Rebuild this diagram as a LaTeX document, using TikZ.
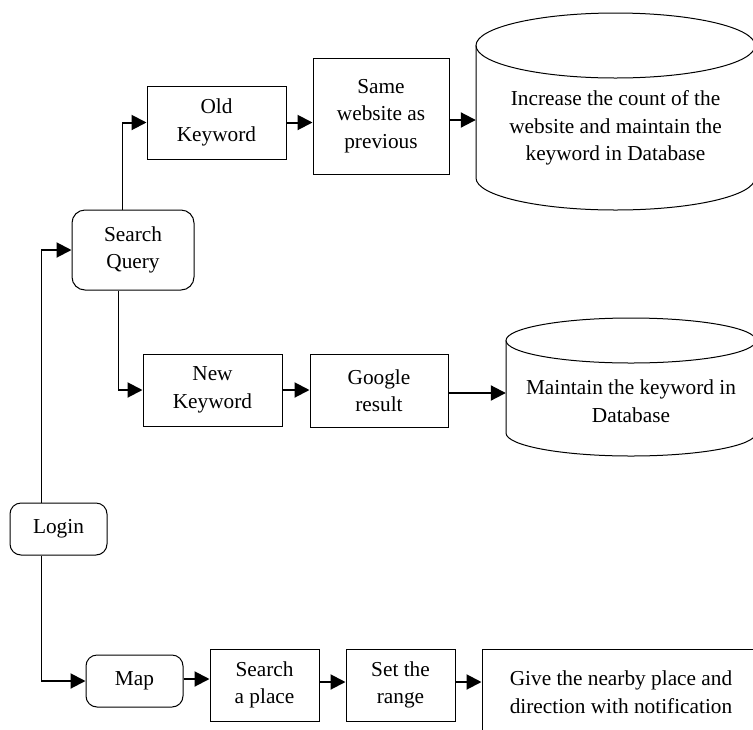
\documentclass[tikz,border=0pt]{standalone}
\usepackage{fontspec}
\setmainfont{Liberation Serif}
\usetikzlibrary{arrows.meta}
\begin{document}
\begin{tikzpicture}[x=1pt,y=1pt,
  txt/.style={font={\fontsize{21.3}{27.5}\selectfont},align=center,inner sep=0pt},
  sbox/.style={txt,draw,line width=1pt},
  rbox/.style={sbox,rounded corners=11pt},
  arr/.style={line width=2pt,-{Triangle[length=15pt,width=15pt]}},
  link/.style={line width=1pt}]
\useasboundingbox (0,0) rectangle (753,-729);

% nodes
\node[rbox,minimum width=97,minimum height=52] (login) at (58.5,-529) {Login};
\node[rbox,minimum width=122,minimum height=80,rounded corners=13pt] (sq) at (133,-250) {Search\\Query};
\node[sbox,minimum width=139,minimum height=73] (old) at (216.5,-122.5) {Old\\Keyword};
\node[sbox,minimum width=136,minimum height=116] (same) at (381,-116) {Same\\website as\\previous};
\node[sbox,minimum width=139,minimum height=72] (newk) at (212.5,-390) {New\\Keyword};
\node[sbox,minimum width=138,minimum height=73] (google) at (379,-390.5) {Google\\result};
\node[rbox,minimum width=97,minimum height=52] (map) at (134.5,-681) {Map};
\node[sbox,minimum width=109,minimum height=72] (place) at (264.5,-685) {Search\\a place};
\node[sbox,minimum width=109,minimum height=72] (range) at (400.5,-685) {Set the\\range};
\node[sbox,minimum width=278,minimum height=86] (final) at (621,-692) {Give the nearby place and\\direction with notification};

% cylinder 1
\draw[link] (615.5,-45.5) ellipse [x radius=139.5,y radius=32.5];
\draw[link] (476,-45.5) -- (476,-178) arc [start angle=180,end angle=360,x radius=139.5,y radius=32] -- (755,-45.5);
\node[txt,minimum width=279,minimum height=60] (db1) at (615.5,-128) {Increase the count of the\\website and maintain the\\keyword in Database};

% cylinder 2
\draw[link] (631,-340.5) ellipse [x radius=125,y radius=22.5];
\draw[link] (506,-340.5) -- (506,-433) arc [start angle=180,end angle=360,x radius=125,y radius=23] -- (756,-340.5);
\node[txt,minimum width=250,minimum height=50] (db2) at (631,-401) {Maintain the keyword in\\Database};

% junction coordinates
\coordinate (c1) at (41,-250);
\coordinate (c2) at (41,-681);
\coordinate (c3) at (122,-122.5);
\coordinate (c4) at (118,-390);

% connectors
\draw[link] (c1 |- login.north) -- (c1);
\draw[arr] (c1) -- (sq.west);
\draw[link] (c2 |- login.south) -- (c2);
\draw[arr] (c2) -- (map.west);
\draw[link] (c3 |- sq.north) -- (c3);
\draw[arr] (c3) -- (old.west);
\draw[link] (c4 |- sq.south) -- (c4);
\draw[arr] (c4) -- (newk.west);

\draw[arr] (old.east) -- (old.east -| same.west);
\draw[arr] ([yshift=-4pt]same.east) -- ([yshift=-4pt]same.east -| db1.west);
\draw[arr] (newk.east) -- (newk.east -| google.west);
\draw[arr] ([yshift=-2.5pt]google.east) -- ([yshift=-2.5pt]google.east -| db2.west);
\draw[arr] ([yshift=2pt]map.east) -- ([yshift=2pt]map.east -| place.west);
\draw[arr] ([yshift=3pt]place.east) -- ([yshift=3pt]place.east -| range.west);
\draw[arr] ([yshift=3pt]range.east) -- ([yshift=3pt]range.east -| final.west);
\end{tikzpicture}
\end{document}
